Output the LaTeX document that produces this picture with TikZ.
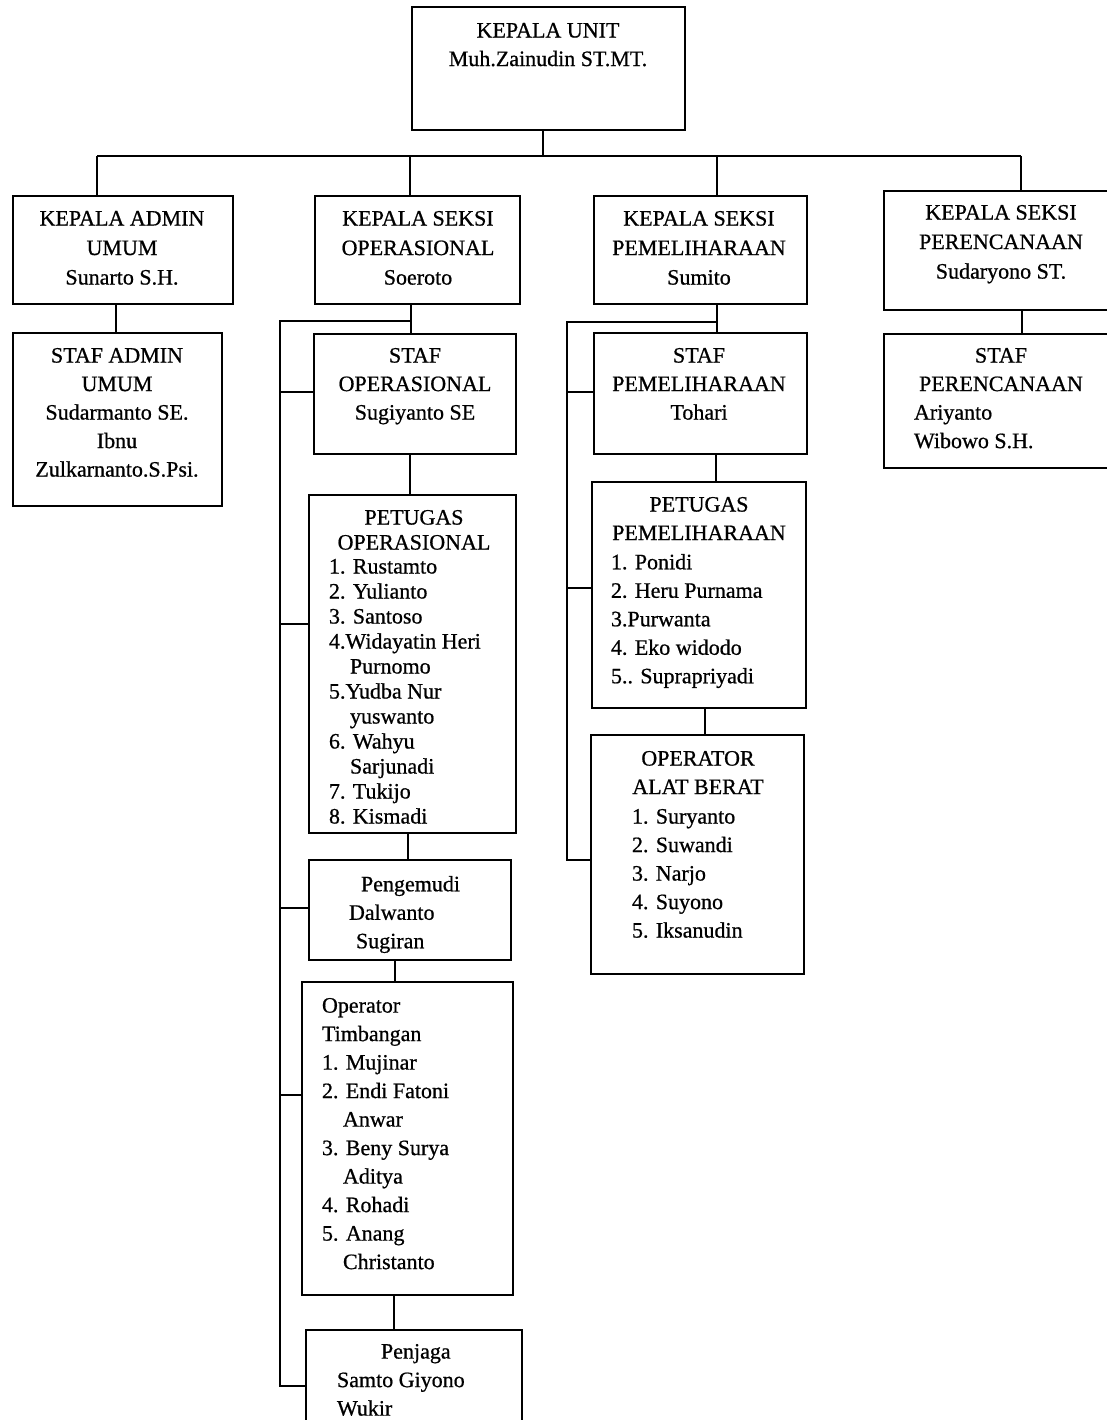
\documentclass[tikz,border=0pt]{standalone}
\usepackage{fontspec}
\setmainfont{Liberation Serif}[FakeBold=0.7]
\begin{document}
\begin{tikzpicture}[x=1pt,y=-1pt,
  box/.style={draw, line width=2.3pt, rectangle, inner sep=0pt, outer sep=0pt, anchor=north west},
  conn/.style={line width=1.9pt},
  txt/.style={inner sep=0pt, outer sep=0pt, align=center, anchor=north},
  ltxt/.style={inner sep=0pt, outer sep=0pt, align=left, anchor=north west},
  fa/.style={font=\fontsize{22}{29.5}\selectfont},
  fb/.style={font=\fontsize{22}{28.5}\selectfont},
  fc/.style={font=\fontsize{22}{25}\selectfont}
]
\fill[white] (0,0) rectangle (1107,1420);
\useasboundingbox (0,0) rectangle (1107,1420);

% boxes
\node[box, minimum width=273, minimum height=123] (unit) at (412,7) {};
\node[box, minimum width=220, minimum height=108] (adm) at (13,196) {};
\node[box, minimum width=205, minimum height=108] (ops) at (315,196) {};
\node[box, minimum width=213, minimum height=108] (pem) at (594,196) {};
\node[box, minimum width=240, minimum height=119] (per) at (884,191) {};
\node[box, minimum width=209, minimum height=173] (sadm) at (13,333) {};
\node[box, minimum width=202, minimum height=120] (sops) at (314,334) {};
\node[box, minimum width=207, minimum height=338] (pops) at (309,495) {};
\node[box, minimum width=202, minimum height=100] (peng) at (309,860) {};
\node[box, minimum width=211, minimum height=313] (optim) at (302,982) {};
\node[box, minimum width=216, minimum height=120] (penj) at (306,1330) {};
\node[box, minimum width=213, minimum height=121] (spem) at (594,333) {};
\node[box, minimum width=214, minimum height=226] (ppem) at (592,482) {};
\node[box, minimum width=213, minimum height=239] (opab) at (591,735) {};
\node[box, minimum width=240, minimum height=134] (sper) at (884,334) {};

% texts
\node[txt, fb] (tunit) at (548,23) {KEPALA UNIT\\Muh.Zainudin ST.MT.};
\node[txt, fa] (tadm) at (122,211) {KEPALA ADMIN\\UMUM\\Sunarto S.H.};
\node[txt, fa] (tops) at (418,211) {KEPALA SEKSI\\OPERASIONAL\\Soeroto};
\node[txt, fa] (tpem) at (699,211) {KEPALA SEKSI\\PEMELIHARAAN\\Sumito};
\node[txt, fa] (tper) at (1001,205) {KEPALA SEKSI\\PERENCANAAN\\Sudaryono ST.};
\node[txt, fb] (tsadm) at (117,348) {STAF ADMIN\\UMUM\\Sudarmanto SE.\\Ibnu\\Zulkarnanto.S.Psi.};
\node[txt, fb] (tsops) at (415,348) {STAF\\OPERASIONAL\\Sugiyanto SE};
\node[txt, fc] (tpopsh) at (414,510) {PETUGAS\\OPERASIONAL};
\node[ltxt, fc] (tpopsl) at (329,559) {1. Rustamto\\2. Yulianto\\3. Santoso\\4.Widayatin Heri\\\hspace*{21pt}Purnomo\\5.Yudba Nur\\\hspace*{21pt}yuswanto\\6. Wahyu\\\hspace*{21pt}Sarjunadi\\7. Tukijo\\8. Kismadi};
\node[ltxt, fb] (tpeng) at (349,876) {\hspace*{12pt}Pengemudi\\Dalwanto\\\hspace*{7pt}Sugiran};
\node[ltxt, fb] (toptim) at (322,998) {Operator\\Timbangan\\1. Mujinar\\2. Endi Fatoni\\\hspace*{21pt}Anwar\\3. Beny Surya\\\hspace*{21pt}Aditya\\4. Rohadi\\5. Anang\\\hspace*{21pt}Christanto};
\node[ltxt, fb] (tpenj) at (337,1344) {\hspace*{44pt}Penjaga\\Samto Giyono\\Wukir};
\node[txt, fb] (tspem) at (699,348) {STAF\\PEMELIHARAAN\\Tohari};
\node[txt, fb] (tppemh) at (699,497) {PETUGAS\\PEMELIHARAAN};
\node[ltxt, fb] (tppeml) at (611,554) {1. Ponidi\\2. Heru Purnama\\3.Purwanta\\4. Eko widodo\\5.. Suprapriyadi};
\node[txt, fb] (topabh) at (698,751) {OPERATOR\\ALAT BERAT};
\node[ltxt, fb] (topabl) at (632,809) {1. Suryanto\\2. Suwandi\\3. Narjo\\4. Suyono\\5. Iksanudin};
\node[txt, fb] (tsperh) at (1001,348) {STAF\\PERENCANAAN};
\node[ltxt, fb] (tsperl) at (914,405) {Ariyanto\\Wibowo S.H.};

% connectors: top level
\coordinate (bc) at (543,156);
\coordinate (b1) at (97,156);
\coordinate (b2) at (410,156);
\coordinate (b3) at (717,156);
\coordinate (b4) at (1021,156);
\draw[conn] (unit.south -| bc) -- (bc);
\draw[conn] (b1) -- (b4);
\draw[conn] (b1) -- (b1 |- adm.north);
\draw[conn] (b2) -- (b2 |- ops.north);
\draw[conn] (b3) -- (b3 |- pem.north);
\draw[conn] (b4) -- (b4 |- per.north);

% admin
\coordinate (xa) at (116,0);
\draw[conn] (adm.south -| xa) -- (sadm.north -| xa);

% operasional
\coordinate (xo) at (411,0);
\coordinate (oc) at (411,321);
\coordinate (ol) at (280,321);
\draw[conn] (ops.south -| xo) -- (sops.north -| xo);
\draw[conn] (oc) -- (ol) -- (ol |- 0,1386) -- (penj.west |- 0,1386);
\draw[conn] (ol |- 0,392) -- (sops.west |- 0,392);
\draw[conn] (ol |- 0,624) -- (pops.west |- 0,624);
\draw[conn] (ol |- 0,908) -- (peng.west |- 0,908);
\draw[conn] (ol |- 0,1095) -- (optim.west |- 0,1095);
\coordinate (x1) at (410,0);
\coordinate (x2) at (408,0);
\coordinate (x3) at (395,0);
\coordinate (x4) at (394,0);
\draw[conn] (sops.south -| x1) -- (pops.north -| x1);
\draw[conn] (pops.south -| x2) -- (peng.north -| x2);
\draw[conn] (peng.south -| x3) -- (optim.north -| x3);
\draw[conn] (optim.south -| x4) -- (penj.north -| x4);

% pemeliharaan
\coordinate (pc) at (717,322);
\coordinate (pl) at (567,322);
\draw[conn] (pem.south -| pc) -- (spem.north -| pc);
\draw[conn] (pc) -- (pl) -- (pl |- 0,860) -- (opab.west |- 0,860);
\draw[conn] (pl |- 0,392) -- (spem.west |- 0,392);
\draw[conn] (pl |- 0,588) -- (ppem.west |- 0,588);
\coordinate (y1) at (716,0);
\coordinate (y2) at (705,0);
\draw[conn] (spem.south -| y1) -- (ppem.north -| y1);
\draw[conn] (ppem.south -| y2) -- (opab.north -| y2);

% perencanaan
\coordinate (z1) at (1022,0);
\draw[conn] (per.south -| z1) -- (sper.north -| z1);
\end{tikzpicture}
\end{document}
